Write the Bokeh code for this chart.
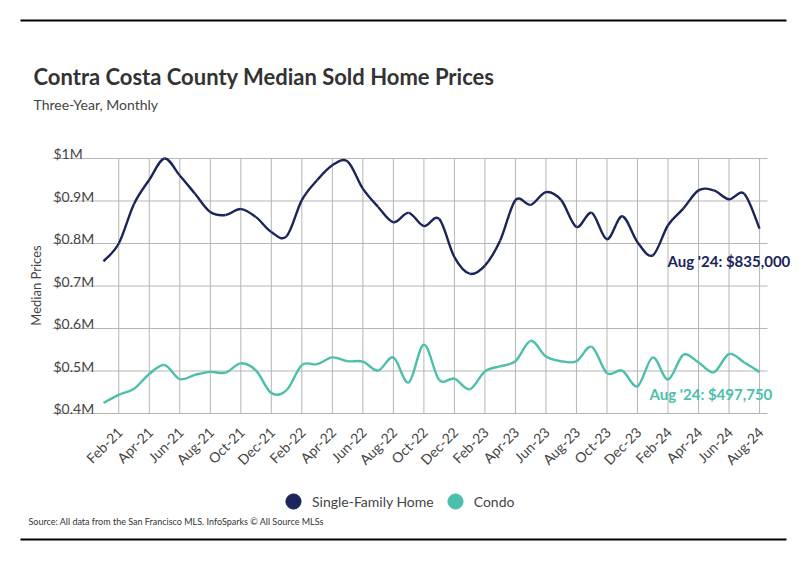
import math
from bokeh.plotting import figure
from bokeh.models import (Range1d, ColumnDataSource, Legend, LegendItem, BoxAnnotation)
from bokeh.core.properties import value
from bokeh.embed import file_html
from bokeh.resources import INLINE

months = ["Jan-21", "Feb-21", "Mar-21", "Apr-21", "May-21", "Jun-21", "Jul-21", "Aug-21",
          "Sep-21", "Oct-21", "Nov-21", "Dec-21",
          "Jan-22", "Feb-22", "Mar-22", "Apr-22", "May-22", "Jun-22", "Jul-22", "Aug-22",
          "Sep-22", "Oct-22", "Nov-22", "Dec-22",
          "Jan-23", "Feb-23", "Mar-23", "Apr-23", "May-23", "Jun-23", "Jul-23", "Aug-23",
          "Sep-23", "Oct-23", "Nov-23", "Dec-23",
          "Jan-24", "Feb-24", "Mar-24", "Apr-24", "May-24", "Jun-24", "Jul-24", "Aug-24"]

single_family = [758000, 800000, 893000, 950000, 1000000, 960000, 917000, 874000,
                 867000, 881000, 862000, 827000,
                 817000, 902000, 949000, 984000, 993000, 929000, 886000, 850000,
                 872000, 841000, 858000, 768000,
                 729000, 748000, 807000, 902000, 891000, 921000, 902000, 839000,
                 872000, 810000, 864000, 803000,
                 772000, 843000, 882000, 925000, 925000, 904000, 917000, 835000]

condo = [425000, 444000, 458000, 493000, 514000, 481000, 491000, 498000,
         496000, 518000, 501000, 448000,
         455000, 514000, 516000, 532000, 523000, 522000, 501000, 532000,
         473000, 562000, 479000, 482000,
         457000, 499000, 511000, 523000, 571000, 534000, 523000, 523000,
         557000, 495000, 501000, 464000,
         532000, 480000, 538000, 520000, 497000, 540000, 520000, 497750]

y_ticks = [400000, 500000, 600000, 700000, 800000, 900000, 1000000]
y_tick_labels = ["$0.4M", "$0.5M", "$0.6M", "$0.7M", "$0.8M", "$0.9M", "$1M"]

series_names = ["Single-Family Home", "Condo"]
NAVY = "#1b2559"
TEAL = "#4bbfab"
FONT = "Lato"
GRID = "#b5b5b5"

W, H = 799, 575

# layout geometry (canvas pixels) -> data space helpers
X0_PX = 103.0     # canvas x of first month
KX = 15.257       # pixels per month
Y_BOT_PX = 413.0  # canvas y of $0.4M
KY = 42.5         # pixels per $100k


def px2x(cx):
    return (cx - X0_PX) / KX


def py2y(cy):
    return 400000 + (Y_BOT_PX - cy) / KY * 100000


p = figure(width=W, height=H, output_backend="svg", toolbar_location=None,
           x_range=Range1d(px2x(0), px2x(W)), y_range=Range1d(py2y(H), py2y(0)),
           x_axis_type=None, y_axis_type=None,
           min_border_left=0, min_border_right=0, min_border_top=0, min_border_bottom=0)
p.outline_line_color = None
p.background_fill_color = "white"
p.border_fill_color = "white"

xs = list(range(len(months)))
tick_idx = xs[1::2]
plot_left = px2x(52)
plot_right = px2x(767)

# grid lines
p.segment(x0=tick_idx, x1=tick_idx, y0=[y_ticks[0]] * len(tick_idx),
          y1=[y_ticks[-1]] * len(tick_idx), line_color=GRID, line_width=1)
p.segment(x0=[plot_left] * len(y_ticks), x1=[plot_right] * len(y_ticks),
          y0=y_ticks, y1=y_ticks, line_color=GRID, line_width=1)

# x tick labels
p.text(x=tick_idx, y=[y_ticks[0]] * len(tick_idx), text=[months[i] for i in tick_idx],
       angle=math.pi / 4, x_offset=1, y_offset=16,
       text_font=value(FONT), text_font_size=value("14px"), text_color="#444444",
       text_align=value("right"), text_baseline=value("middle"))

# y tick labels above grid lines
p.text(x=[px2x(53)] * len(y_ticks), y=y_ticks, text=y_tick_labels, y_offset=-5,
       text_font=value(FONT), text_font_size=value("14px"), text_color="#444444",
       text_align=value("left"), text_baseline=value("alphabetic"))


def smooth(vals):
    n = len(vals)
    x0, y0, x1, y1, cx0, cy0, cx1, cy1 = ([] for _ in range(8))
    for i in range(n - 1):
        pm = i - 1 if i > 0 else i
        pp = i + 2 if i + 2 < n else i + 1
        x0.append(xs[i]); y0.append(vals[i])
        x1.append(xs[i + 1]); y1.append(vals[i + 1])
        cx0.append(xs[i] + (xs[i + 1] - xs[pm]) / 6.0)
        cy0.append(vals[i] + (vals[i + 1] - vals[pm]) / 6.0)
        cx1.append(xs[i + 1] - (xs[pp] - xs[i]) / 6.0)
        cy1.append(vals[i + 1] - (vals[pp] - vals[i]) / 6.0)
    return dict(x0=x0, y0=y0, x1=x1, y1=y1, cx0=cx0, cy0=cy0, cx1=cx1, cy1=cy1)


for vals, col in [(single_family, NAVY), (condo, TEAL)]:
    src = ColumnDataSource(smooth(vals))
    p.bezier(x0="x0", y0="y0", x1="x1", y1="y1", cx0="cx0", cy0="cy0",
             cx1="cx1", cy1="cy1", source=src, line_color=col, line_width=2.4)

# end labels
p.text(x=[xs[-1]], y=[single_family[-1]],
       text=["Aug '24: ${:,.0f}".format(single_family[-1])],
       x_offset=-92, y_offset=32, text_font=value(FONT), text_font_style=value("bold"),
       text_font_size=value("15px"), text_color=NAVY, text_baseline=value("middle"))
p.text(x=[xs[-1]], y=[condo[-1]],
       text=["Aug '24: ${:,.0f}".format(condo[-1])],
       x_offset=-110, y_offset=22, text_font=value(FONT), text_font_style=value("bold"),
       text_font_size=value("15px"), text_color=TEAL, text_baseline=value("middle"))

# titles and other texts
p.text(x=[px2x(33)], y=[py2y(76)], text=["Contra Costa County Median Sold Home Prices"],
       text_font=value(FONT), text_font_style=value("bold"), text_font_size=value("22px"),
       text_color="#333333", text_baseline=value("alphabetic"))
p.text(x=[px2x(33)], y=[py2y(104)], text=["Three-Year, Monthly"],
       text_font=value(FONT), text_font_size=value("14px"),
       text_color="#444444", text_baseline=value("alphabetic"))
p.text(x=[px2x(35)], y=[py2y(285)], text=["Median Prices"], angle=math.pi / 2,
       text_font=value(FONT), text_font_size=value("13px"),
       text_color="#444444", text_baseline=value("middle"), text_align=value("center"))
p.text(x=[px2x(28)], y=[py2y(521)],
       text=["Source:  All data from the San Francisco MLS. InfoSparks \u00a9 All Source MLSs"],
       text_font=value(FONT), text_font_size=value("9px"),
       text_color="#333333", text_baseline=value("middle"))

# horizontal rules
for yb in (554, 35):
    p.add_layout(BoxAnnotation(left=20, right=786, bottom=yb, top=yb + 2,
                               left_units="screen", right_units="screen",
                               bottom_units="screen", top_units="screen",
                               fill_color="black", fill_alpha=1, line_alpha=0,
                               level="overlay"))

# legend (size-0 markers on the series points: only the legend swatches show)
r1 = p.scatter(x=xs, y=single_family, marker="circle", size=0,
               fill_color=NAVY, line_color=NAVY)
r2 = p.scatter(x=xs, y=condo, marker="circle", size=0,
               fill_color=TEAL, line_color=TEAL)
legend = Legend(items=[LegendItem(label=series_names[0], renderers=[r1]),
                       LegendItem(label=series_names[1], renderers=[r2])],
                location=(274, 55), orientation="horizontal",
                glyph_width=38, glyph_height=38, label_standoff=0, spacing=2,
                padding=0, margin=0, border_line_color=None, background_fill_alpha=0,
                label_text_font=FONT, label_text_font_size="14px",
                label_text_color="#444444")
p.add_layout(legend, "center")

open("out.html", "w").write(file_html(p, INLINE))
